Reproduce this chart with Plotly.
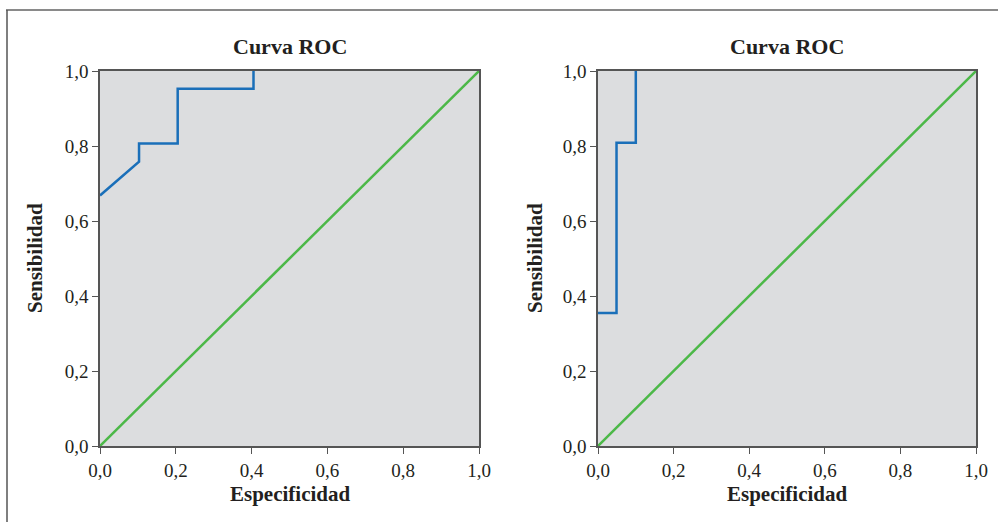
import plotly.graph_objects as go

# Data
roc1_x = [0.0, 0.103, 0.103, 0.205, 0.205, 0.405, 0.405]
roc1_y = [0.668, 0.758, 0.807, 0.807, 0.953, 0.953, 1.0]
roc2_x = [0.0, 0.049, 0.049, 0.100, 0.100]
roc2_y = [0.355, 0.355, 0.809, 0.809, 1.0]
ref_x = [0.0, 1.0]
ref_y = [0.0, 1.0]
tick_vals = [0.0, 0.2, 0.4, 0.6, 0.8, 1.0]
tick_text = ["0,0", "0,2", "0,4", "0,6", "0,8", "1,0"]
panel_title = "Curva ROC"
x_title = "Especificidad"
y_title = "Sensibilidad"

BLUE = "#1a6fb9"
GREEN = "#4cb848"
FONT = "Liberation Serif"
TXT = "#231f20"

W, H = 998, 522

fig = go.Figure()
fig.add_trace(go.Scatter(x=roc1_x, y=roc1_y, mode="lines", line=dict(color=BLUE, width=2.5), xaxis="x", yaxis="y", showlegend=False))
fig.add_trace(go.Scatter(x=ref_x, y=ref_y, mode="lines", line=dict(color=GREEN, width=2.5), xaxis="x", yaxis="y", showlegend=False))
fig.add_trace(go.Scatter(x=roc2_x, y=roc2_y, mode="lines", line=dict(color=BLUE, width=2.5), xaxis="x2", yaxis="y2", showlegend=False))
fig.add_trace(go.Scatter(x=ref_x, y=ref_y, mode="lines", line=dict(color=GREEN, width=2.5), xaxis="x2", yaxis="y2", showlegend=False))

def px(x):
    return x / W

def py(y):
    return (H - y) / H

ydom = [py(446), py(71)]
axis_common = dict(range=[0, 1], tickvals=tick_vals, ticktext=tick_text, showgrid=False, zeroline=False,
                   showline=True, mirror=True, linecolor="#555555", linewidth=1.5,
                   ticks="outside", ticklen=6, tickcolor="#555555", tickwidth=1.2, automargin=False,
                   tickfont=dict(family=FONT, size=19, color=TXT), fixedrange=True)

fig.update_layout(
    template="none",
    width=W, height=H, autosize=False,
    margin=dict(l=0, r=0, t=0, b=0, pad=0, autoexpand=False),
    paper_bgcolor="white",
    plot_bgcolor="#dcdddf",
    font=dict(family=FONT, color=TXT),
    xaxis=dict(domain=[px(100), px(479)], anchor="y", **axis_common),
    yaxis=dict(domain=ydom, anchor="x", **axis_common),
    xaxis2=dict(domain=[px(598), px(976)], anchor="y2", **axis_common),
    yaxis2=dict(domain=ydom, anchor="x2", **axis_common),
)

ann = []
for cx, ylx in [((100 + 479) / 2, 35), ((598 + 976) / 2, 535)]:
    ann.append(dict(text="<b>" + panel_title + "</b>", x=px(cx), y=py(47), xref="paper", yref="paper",
                    showarrow=False, font=dict(family=FONT, size=22, color=TXT), xanchor="center", yanchor="middle"))
    ann.append(dict(text="<b>" + x_title + "</b>", x=px(cx), y=py(494), xref="paper", yref="paper",
                    showarrow=False, font=dict(family=FONT, size=21, color=TXT), xanchor="center", yanchor="middle"))
    ann.append(dict(text="<b>" + y_title + "</b>", x=px(ylx), y=py(258), xref="paper", yref="paper",
                    showarrow=False, textangle=-90, font=dict(family=FONT, size=21, color=TXT), xanchor="center", yanchor="middle"))
fig.update_layout(annotations=ann)

fig.add_shape(type="line", xref="paper", yref="paper", x0=px(6), x1=1, y0=py(10), y1=py(10), line=dict(color="#8a8a8a", width=2))
fig.add_shape(type="line", xref="paper", yref="paper", x0=px(7), x1=px(7), y0=py(10), y1=0, line=dict(color="#555555", width=1.5))

fig.write_html("out.html", config=dict(responsive=False, displayModeBar=False),
               post_script="document.body.style.margin='0';document.body.style.overflow='hidden';")
